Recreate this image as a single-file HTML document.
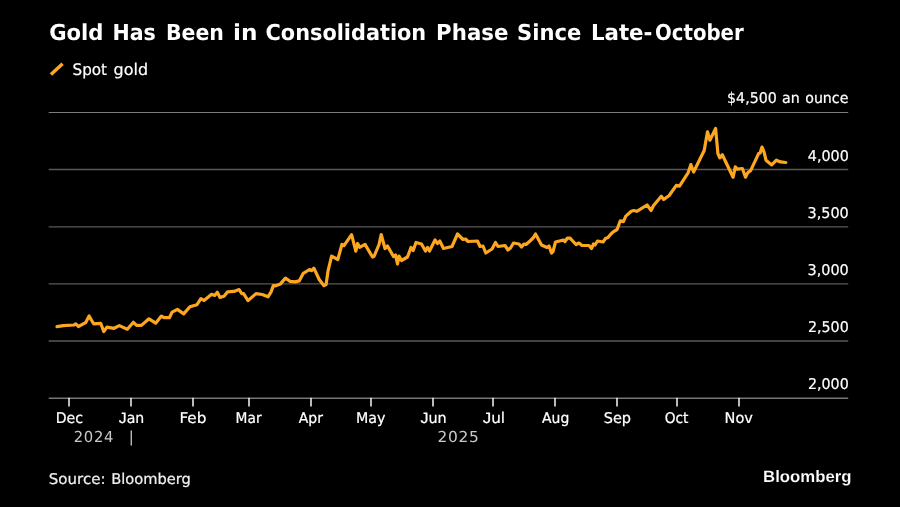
<!DOCTYPE html>
<html lang="en">
<head>
<meta charset="utf-8">
<title>Gold Has Been in Consolidation Phase Since Late-October</title>
<style>
html,body{margin:0;padding:0;background:#000;}
body{width:900px;height:507px;overflow:hidden;}
svg{display:block;}
text{font-family:"DejaVu Sans","Liberation Sans",sans-serif;fill:#fff;text-rendering:geometricPrecision;}
.title{font-family:"DejaVu Sans Condensed","DejaVu Sans","Liberation Sans",sans-serif;font-weight:bold;font-size:22px;}
.lbl{font-family:"DejaVu Sans Condensed","DejaVu Sans","Liberation Sans",sans-serif;font-size:14.85px;stroke:#fff;stroke-width:0.2px;}
.lg{font-size:16px;}
.lj{font-family:"Liberation Sans",sans-serif;}
.src{fill:#f0f0f0;stroke:#f0f0f0;}
.yr{font-size:15px;fill:#c8c8c8;letter-spacing:0.7px;}
.logo{font-family:"Liberation Sans",sans-serif;font-weight:bold;font-size:16.5px;stroke:#000;stroke-width:0.12px;paint-order:fill stroke;}
</style>
</head>
<body>
<svg width="900" height="507" viewBox="0 0 900 507">
<rect x="0" y="0" width="900" height="507" fill="#000"/>
<text class="title" y="40.3"><tspan x="49.21" textLength="54.27" lengthAdjust="spacingAndGlyphs">Gold</tspan> <tspan x="112.54" textLength="43.32" lengthAdjust="spacingAndGlyphs">Has</tspan> <tspan x="165.93" textLength="57.93" lengthAdjust="spacingAndGlyphs">Been</tspan> <tspan x="233.14" textLength="24.43" lengthAdjust="spacingAndGlyphs">in</tspan> <tspan x="265.59" textLength="160.61" lengthAdjust="spacingAndGlyphs">Consolidation</tspan> <tspan x="436.11" textLength="72.31" lengthAdjust="spacingAndGlyphs">Phase</tspan> <tspan x="517.01" textLength="64.27" lengthAdjust="spacingAndGlyphs">Since</tspan> <tspan x="590.91" textLength="61.54" lengthAdjust="spacingAndGlyphs">Late-</tspan><tspan x="655.0" textLength="88.69" lengthAdjust="spacingAndGlyphs">October</tspan></text>
<line x1="50.9" y1="74.5" x2="62.6" y2="63.8" stroke="#fda620" stroke-width="3.5"/>
<text class="lbl lg" y="75.0"><tspan x="72.54" textLength="34.42" lengthAdjust="spacingAndGlyphs">Spot</tspan> <tspan x="113.62" textLength="34.43" lengthAdjust="spacingAndGlyphs">gold</tspan></text>
<text class="lbl" y="103.25"><tspan x="727.07" textLength="49.7" lengthAdjust="spacingAndGlyphs">$4,500</tspan> <tspan x="781.96" textLength="17.72" lengthAdjust="spacingAndGlyphs">an</tspan> <tspan x="805.23" textLength="43.17" lengthAdjust="spacingAndGlyphs">ounce</tspan></text>
<g stroke="#585858" stroke-width="1.3">
<line x1="48.7" y1="112.45" x2="848.2" y2="112.45" stroke="#7c7c7c" stroke-width="1.1"/>
<line x1="48.7" y1="169.5" x2="848.2" y2="169.5"/>
<line x1="48.7" y1="226.8" x2="848.2" y2="226.8"/>
<line x1="48.7" y1="283.95" x2="848.2" y2="283.95"/>
<line x1="48.7" y1="341.0" x2="848.2" y2="341.0"/>
</g>
<line x1="48.7" y1="398.22" x2="848.2" y2="398.22" stroke="#767676" stroke-width="1.4"/>
<g stroke="#dcdcdc" stroke-width="1.7">
<line x1="69" y1="397.8" x2="69" y2="406.5"/>
<line x1="131" y1="397.8" x2="131" y2="406.5"/>
<line x1="193" y1="397.8" x2="193" y2="406.5"/>
<line x1="249" y1="397.8" x2="249" y2="406.5"/>
<line x1="311" y1="397.8" x2="311" y2="406.5"/>
<line x1="371" y1="397.8" x2="371" y2="406.5"/>
<line x1="433" y1="397.8" x2="433" y2="406.5"/>
<line x1="493" y1="397.8" x2="493" y2="406.5"/>
<line x1="555" y1="397.8" x2="555" y2="406.5"/>
<line x1="617" y1="397.8" x2="617" y2="406.5"/>
<line x1="677" y1="397.8" x2="677" y2="406.5"/>
<line x1="739" y1="397.8" x2="739" y2="406.5"/>
</g>
<text class="lbl" y="160.7"><tspan x="807.83" textLength="40.94" lengthAdjust="spacingAndGlyphs">4,000</tspan></text>
<text class="lbl" y="218.0"><tspan x="807.51" textLength="41.22" lengthAdjust="spacingAndGlyphs">3,500</tspan></text>
<text class="lbl" y="275.1"><tspan x="807.51" textLength="41.22" lengthAdjust="spacingAndGlyphs">3,000</tspan></text>
<text class="lbl" y="332.2"><tspan x="807.98" textLength="40.75" lengthAdjust="spacingAndGlyphs">2,500</tspan></text>
<text class="lbl" y="389.4"><tspan x="807.98" textLength="40.75" lengthAdjust="spacingAndGlyphs">2,000</tspan></text>
<text class="lbl" y="422.6"><tspan x="55.74" textLength="27.34" lengthAdjust="spacingAndGlyphs">Dec</tspan></text>
<text class="lbl" y="422.6"><tspan x="118.8" textLength="25.44" lengthAdjust="spacingAndGlyphs"><tspan class="lj">J</tspan>an</tspan></text>
<text class="lbl" y="422.6"><tspan x="179.5" textLength="26.89" lengthAdjust="spacingAndGlyphs">Feb</tspan></text>
<text class="lbl" y="422.6"><tspan x="235.6" textLength="25.97" lengthAdjust="spacingAndGlyphs">Mar</tspan></text>
<text class="lbl" y="422.6"><tspan x="298.74" textLength="24.17" lengthAdjust="spacingAndGlyphs">Apr</tspan></text>
<text class="lbl" y="422.6"><tspan x="356.06" textLength="29.48" lengthAdjust="spacingAndGlyphs">May</tspan></text>
<text class="lbl" y="422.6"><tspan x="420.43" textLength="26.24" lengthAdjust="spacingAndGlyphs"><tspan class="lj">J</tspan>un</tspan></text>
<text class="lbl" y="422.6"><tspan x="482.68" textLength="22.39" lengthAdjust="spacingAndGlyphs"><tspan class="lj">J</tspan>ul</tspan></text>
<text class="lbl" y="422.6"><tspan x="542.03" textLength="27.26" lengthAdjust="spacingAndGlyphs">Aug</tspan></text>
<text class="lbl" y="422.6"><tspan x="603.68" textLength="27.35" lengthAdjust="spacingAndGlyphs">Sep</tspan></text>
<text class="lbl" y="422.6"><tspan x="664.76" textLength="23.74" lengthAdjust="spacingAndGlyphs">Oct</tspan></text>
<text class="lbl" y="422.6"><tspan x="724.62" textLength="28.27" lengthAdjust="spacingAndGlyphs">Nov</tspan></text>
<text class="yr" y="442.0"><tspan x="73.69" textLength="40.53" lengthAdjust="spacingAndGlyphs">2024</tspan></text>
<text class="yr" x="131.65" y="442.3" text-anchor="middle">|</text>
<text class="yr" y="442.0"><tspan x="437.44" textLength="42.2" lengthAdjust="spacingAndGlyphs">2025</tspan></text>
<polyline fill="none" stroke="#fda620" stroke-width="3.2" stroke-linejoin="round" stroke-linecap="round" points="57,326.7 63.3,325.6 74,325 75.8,323.8 78.4,326.5 85.6,322.7 89.1,316 93.6,323.8 100.7,323.3 103.8,331.6 106.9,327.1 114,328.3 119.3,325.6 127.3,329.2 133.4,322.3 136.6,325.4 141.4,325.4 149,318.8 155.7,323.2 161.4,316.1 164.1,317.7 169.4,317.7 172.1,312.1 177.4,309.4 183.7,313.9 189.9,306.8 197,304.7 200.9,298.6 204,300.4 211.6,294.3 214.7,295.4 217.3,292.2 220,297.4 224,296.3 227.6,291.8 233.8,291.4 239.1,289.6 241.8,293.6 243.6,293.6 248,300.6 256,293.6 262.2,294.5 268,296.8 271.1,291.9 273.3,285.6 275.6,285.8 280.5,283.9 285.4,278.1 290.2,281.3 295,281.9 299.2,280.9 303.3,273.3 309.5,269.5 311.6,270.6 313.9,268.1 319.2,279.5 324,285.7 326.1,284.6 328.1,270.6 331.6,256.1 337.8,259.5 342,244.3 344,245.7 351.6,234.7 355.8,251.2 357.6,243.5 359.7,247.3 365,244.4 372.5,257 374,256.5 379,244.5 381.2,234.5 385,248.5 387.5,246 393.5,256.5 395.5,255 397.5,264 399,256 401.5,260.5 407.5,257 411,247.5 413.2,250.5 416,242.5 421.5,244 425.5,251 427.5,247.5 429.5,251 435,240 437.5,243.5 439.8,241 443.5,248.5 452,246.5 457.5,234 463,239.5 465.5,239 468,241.5 477.5,241 480,246.5 483,246 485.8,253 492,249 495.5,242.5 498,246.5 505,245.5 508,250 510.5,248 513.5,243 519,244 521.5,247 524,244 526,244.5 530,241 533.5,237.5 535.5,234 541.5,245 547,247.5 549,246 551.5,253 553,251.5 555.5,242 563.5,240 565,241.5 567.5,238 570,238.2 576,244.5 579,243 582,245.5 589,245.5 591.5,248.5 593.5,244 595,245 597.5,241 603,242 605.5,238.5 608,237.5 610.5,234.5 613.2,231.8 617.1,229.5 620.3,220.8 623.4,221.6 625.8,216.1 631.3,211.3 633.7,210.5 636.8,211.3 647.1,205 651.1,210.5 653.4,205.8 661.3,196.3 663.7,199.5 669.2,195.5 676.3,185.3 679.5,186.1 688.2,172.6 690.9,164.6 693.6,172 704.2,150.5 707.5,131.8 709.9,140.2 715.6,128.5 717.9,153.5 719.8,157.9 722.3,154.7 733.1,177.2 735.3,166.8 737.4,169.2 742.4,168.5 745.5,177.2 747.8,172.6 750.6,170.6 758.6,153.6 760.1,153.1 762,147.1 764,151.9 766,160.2 771.7,164.9 776.4,160.2 780.5,161.9 785.8,162.5"/>
<text class="lbl src" y="484.0"><tspan x="48.84" textLength="56.62" lengthAdjust="spacingAndGlyphs">Source:</tspan> <tspan x="111.21" textLength="79.55" lengthAdjust="spacingAndGlyphs">Bloomberg</tspan></text>
<text class="logo" y="481.9"><tspan x="763.07" textLength="88.46" lengthAdjust="spacingAndGlyphs">Bloomberg</tspan></text>
</svg>
</body>
</html>
